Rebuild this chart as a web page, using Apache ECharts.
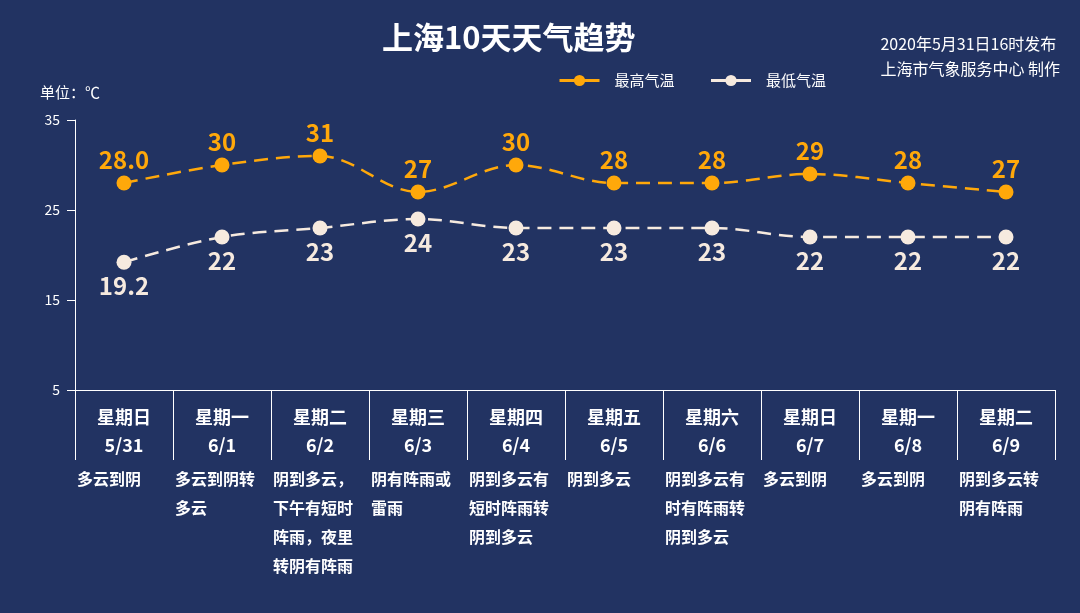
<!DOCTYPE html>
<html>
<head>
<meta charset="utf-8">
<script src="https://cdn.jsdelivr.net/npm/echarts@6/dist/echarts.min.js"></script>
<style>html,body{margin:0;padding:0;background:#223362;}#c{width:1080px;height:613px;}</style>
</head>
<body>
<div id="c"></div>
<script>
var weekdays = ['星期日','星期一','星期二','星期三','星期四','星期五','星期六','星期日','星期一','星期二'];
var dates = ['5/31','6/1','6/2','6/3','6/4','6/5','6/6','6/7','6/8','6/9'];
var weather = ['多云到阴','多云到阴转多云','阴到多云，下午有短时阵雨，夜里转阴有阵雨','阴有阵雨或雷雨','阴到多云有短时阵雨转阴到多云','阴到多云','阴到多云有时有阵雨转阴到多云','多云到阴','多云到阴','阴到多云转阴有阵雨'];
var highTemps = ['28.0', 30, 31, 27, 30, 28, 28, 29, 28, 27];
var lowTemps = [19.2, 22, 23, 24, 23, 23, 23, 22, 22, 22];
var yTicks = {min: 5, max: 35, interval: 10};

var ORANGE = '#FFA80A';
var CREAM = '#F6EADF';
var FONT = '"Noto Sans CJK SC", "Noto Sans", sans-serif';

var catLabels = weekdays.map(function (w, i) { return w + '\n' + dates[i]; });

var chart = echarts.init(document.getElementById('c'));
chart.setOption({
  backgroundColor: '#223362',
  textStyle: {fontFamily: FONT},
  title: [
    {text: '上海10天天气趋势', left: 377, top: 17,
     textStyle: {color: '#ffffff', fontSize: 31, fontWeight: 'bold', fontFamily: FONT}},
    {text: '2020年5月31日16时发布\n上海市气象服务中心 制作', right: 15, top: 26,
     textStyle: {color: '#ffffff', fontSize: 16, fontWeight: 'normal', lineHeight: 25, align: 'right', fontFamily: FONT}}
  ],
  legend: {
    left: 553, top: 68,
    itemWidth: 40, itemHeight: 14, itemGap: 35,
    lineStyle: {type: 'solid', width: 3},
    textStyle: {color: '#ffffff', fontSize: 15, padding: [0, 0, 0, 10], fontFamily: FONT},
    data: ['最高气温', '最低气温']
  },
  grid: {left: 75, right: 25, top: 120, bottom: 223},
  xAxis: [
    {
      type: 'category', position: 'bottom', data: catLabels,
      axisLine: {show: true, lineStyle: {color: '#ffffff', width: 1}},
      axisTick: {show: true, length: 70, lineStyle: {color: '#ffffff', width: 1}},
      axisLabel: {interval: 0, color: '#ffffff', fontSize: 18, fontWeight: 'bold', lineHeight: 28, margin: 13, fontFamily: FONT}
    },
    {
      type: 'category', position: 'bottom', offset: 70, data: weather,
      axisLine: {show: false}, axisTick: {show: false},
      axisLabel: {
        interval: 0, color: '#ffffff', fontSize: 16, fontWeight: 'bold', lineHeight: 29, margin: 4,
        width: 82, overflow: 'break', padding: [0, 12, 0, 0], fontFamily: FONT,
        formatter: function (v) { return '{d|' + v + '}'; },
        rich: {d: {align: 'left', color: '#ffffff', fontSize: 16, fontWeight: 'bold', lineHeight: 29, fontFamily: FONT}}
      }
    }
  ],
  yAxis: {
    type: 'value', min: yTicks.min, max: yTicks.max, interval: yTicks.interval,
    name: '单位：℃', nameLocation: 'end', nameGap: 20,
    nameTextStyle: {color: '#ffffff', fontSize: 15, padding: [0, 10, 0, 0], fontFamily: FONT},
    axisLine: {show: true, lineStyle: {color: '#ffffff', width: 1}},
    axisTick: {show: true, length: 8, lineStyle: {color: '#ffffff'}},
    axisLabel: {color: '#ffffff', fontSize: 14, margin: 15, fontFamily: FONT},
    splitLine: {show: false}
  },
  series: [
    {
      name: '最高气温', type: 'line', data: highTemps, smooth: 0.35,
      symbol: 'circle', symbolSize: 15,
      itemStyle: {color: ORANGE},
      lineStyle: {color: ORANGE, width: 2.5, type: [14, 8]},
      label: {show: true, position: 'top', distance: 4, color: ORANGE, fontSize: 24, fontWeight: 'bold', fontFamily: FONT}
    },
    {
      name: '最低气温', type: 'line', data: lowTemps, smooth: 0.35,
      symbol: 'circle', symbolSize: 15,
      itemStyle: {color: CREAM},
      lineStyle: {color: CREAM, width: 2.5, type: [14, 8]},
      label: {show: true, position: 'bottom', distance: 4, color: CREAM, fontSize: 24, fontWeight: 'bold', fontFamily: FONT}
    }
  ]
});
</script>
</body>
</html>
